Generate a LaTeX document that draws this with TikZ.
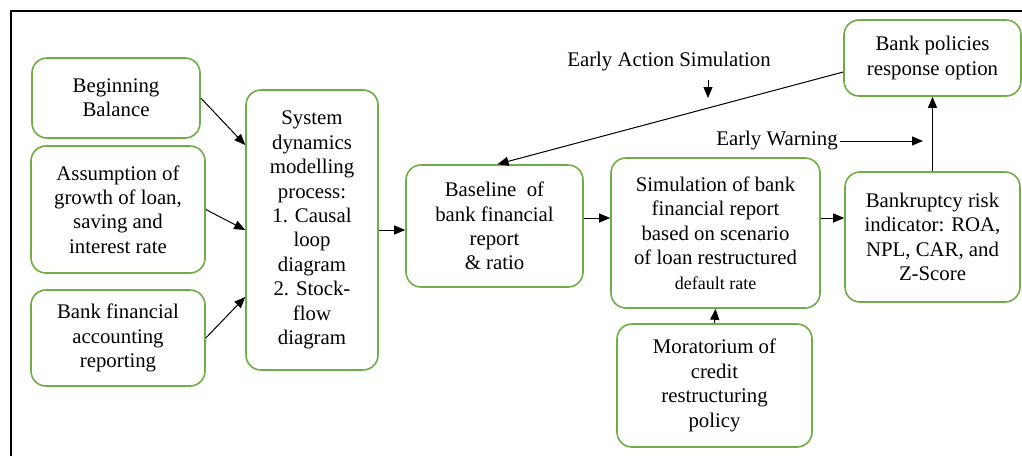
\documentclass[tikz,border=0pt]{standalone}
\usepackage{fontspec}
\setmainfont{Liberation Serif}
\usepackage{tikz}
\usetikzlibrary{arrows.meta,positioning,calc}
\definecolor{boxgreen}{RGB}{112,173,71}
\tikzstyle{block}=[draw=boxgreen,line width=0.8pt,rounded corners=7.5pt,align=center,inner sep=1pt,font=\fontsize{10.4}{12.2}\selectfont]
\tikzstyle{label}=[align=center,inner sep=1pt,font=\fontsize{10.4}{12.2}\selectfont]
\tikzstyle{flow}=[line width=0.5pt,-{Triangle[length=5.5pt,width=4.5pt]}]

\begin{document}
\begin{tikzpicture}[x=0.5pt,y=-0.5pt]
\useasboundingbox (0,0) rectangle (1022,456);
% frame
\draw[line width=1.2pt] (11,456) -- (11,11) -- (1022,11);

\node [block, minimum width=84pt, minimum height=40pt] (balance) at (116,98) {Beginning\\Balance};
\node [block, minimum width=87pt, minimum height=63.5pt] (assume) at (118,209.5) {Assumption of\\growth of loan,\\saving and\\interest rate};
\node [block, minimum width=87pt, minimum height=48pt] (report) at (118,338) {Bank financial\\accounting\\reporting};
\node [block, minimum width=66pt, minimum height=140pt] (sysdyn) at (312,230) {System\\dynamics\\modelling\\process:\\1. Causal\\loop\\diagram\\2. Stock-\\flow\\diagram};
\node [block, minimum width=88.5pt, minimum height=61pt] (baseline) at (494.5,226) {Baseline\ \ of\\bank financial\\report\\\& ratio};
\node [block, minimum width=104.5pt, minimum height=75pt] (simul) at (715.5,233) {Simulation of bank\\financial report\\based on scenario\\of loan restructured\\{\fontsize{9}{12.2}\selectfont default rate}};
\node [block, minimum width=97.5pt, minimum height=61.5pt] (morat) at (714.5,385.5) {Moratorium of\\credit\\restructuring\\policy};
\node [block, minimum width=87.5pt, minimum height=65pt] (bankrupt) at (932.5,237) {Bankruptcy risk\\indicator: ROA,\\NPL, CAR, and\\Z-Score};
\node [block, minimum width=88.5pt, minimum height=38pt] (policy) at (932.5,58) {Bank policies\\response option};

\node [label] (early) at (669,62) {Early Action Simulation};
\node [label] (warn) at (777,141) {Early Warning};
\coordinate (earlytip) at (708,98);
\coordinate (warntip) at (923,141);

\draw [flow] (balance.east) -- ([yshift=42.5pt]sysdyn.west);
\draw [flow] (assume.east) -- (sysdyn.west);
\draw [flow] (report.east) -- ([yshift=-33.5pt]sysdyn.west);
\draw [flow] (sysdyn.east) -- (sysdyn.east -| baseline.west);
\draw [flow] ([yshift=4pt]baseline.east) -- ([yshift=4pt]baseline.east -| simul.west);
\draw [flow] ([yshift=7.5pt]simul.east) -- ([yshift=7.5pt]simul.east -| bankrupt.west);
\draw [flow] (morat.north) -- (simul.south);
\draw [flow] (bankrupt.north) -- (policy.south);
\draw [flow] ([yshift=-7pt]policy.west) -- ([xshift=1.5pt]baseline.north);
\draw [flow] ([yshift=-3pt]early.south -| earlytip) -- (earlytip);
\draw [flow] (warn.east) -- (warntip);
\end{tikzpicture}
\end{document}
